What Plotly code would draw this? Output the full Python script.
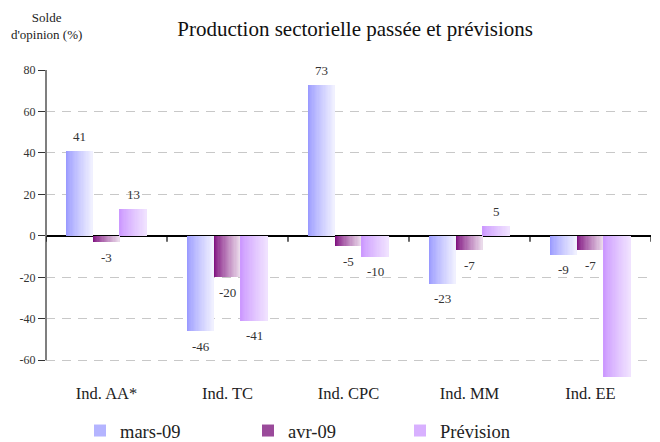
import plotly.graph_objects as go

categories = ["Ind. AA*", "Ind. TC", "Ind. CPC", "Ind. MM", "Ind. EE"]
series_names = ["mars-09", "avr-09", "Prévision"]
mars_09 = [41, -46, 73, -23, -9]
avr_09 = [-3, -20, -5, -7, -7]
prevision = [13, -41, -10, 5, -68]
prevision_labels = ["13", "-41", "-10", "5", ""]
ytick_vals = [-60, -40, -20, 0, 20, 40, 60, 80]
ytick_text = ["-60", "-40", "-20", "0", "20", "40", "60", "80"]

series = [mars_09, avr_09, prevision]
labels = [[str(v) for v in mars_09], [str(v) for v in avr_09], prevision_labels]
grad = [((0x9A, 0x9A, 0xFF), (0xF0, 0xF0, 0xFF)),
        ((0x80, 0x12, 0x80), (0xEA, 0xDA, 0xEA)),
        ((0xCC, 0x99, 0xFF), (0xF0, 0xE2, 0xFF))]
legend_col = ["#B4B4FF", "#9A4A9A", "#D8B0FF"]
legend_ids = ["legend", "legend2", "legend3"]
legend_x_px = [80, 248, 400]

FONT = "Liberation Serif"
x = list(range(len(categories)))
bw = 0.223
N = 22
fig = go.Figure()
for s, vals in enumerate(series):
    base = -1.5 * bw + s * bw
    c0, c1 = grad[s]
    for j in range(N):
        t = j / (N - 1)
        t2 = t ** 0.85
        col = "rgb(%d,%d,%d)" % tuple(round(c0[k] + (c1[k] - c0[k]) * t2) for k in range(3))
        fig.add_trace(go.Bar(
            x=x, y=vals, offset=base + j * bw / N,
            width=bw / N * (1.3 if j < N - 1 else 1.0),
            marker=dict(color=col, line=dict(width=0)),
            showlegend=False, hoverinfo="skip"))
    fig.add_trace(go.Bar(x=[None], y=[None], name=series_names[s],
                         marker=dict(color=legend_col[s], line=dict(width=0)),
                         showlegend=True, legend=legend_ids[s]))
    for i, v in enumerate(vals):
        if labels[s][i] == "":
            continue
        fig.add_annotation(x=x[i] + base + bw / 2, y=v, text=labels[s][i],
                           showarrow=False, yshift=14 if v >= 0 else -15,
                           font=dict(family=FONT, size=13, color="#333333"))

fig.add_shape(type="line", xref="paper", yref="y", x0=0, x1=0, y0=-60, y1=80,
              line=dict(color="#7F7F7F", width=2), layer="above")
for b in range(len(categories) + 1):
    fig.add_shape(type="line", xref="x", yref="y", x0=b - 0.5, x1=b - 0.5,
                  ysizemode="pixel", yanchor=0, y0=0, y1=-6,
                  line=dict(color="#000000", width=1.2))

fig.add_annotation(xref="paper", yref="paper", x=0, y=1, text="Solde<br>d'opinion (%)",
                   xanchor="center", yanchor="bottom", showarrow=False, yshift=26,
                   font=dict(family=FONT, size=13, color="#222222"), align="center")

legend_common = dict(orientation="h", xref="container", yref="container",
                     xanchor="left", yanchor="middle", y=11 / 442,
                     font=dict(family=FONT, size=18.5, color="#222222"),
                     bgcolor="rgba(0,0,0,0)")
legends = {}
for k, lid in enumerate(legend_ids):
    legends[lid] = dict(legend_common, x=legend_x_px[k] / 660)

fig.update_layout(
    width=660, height=442,
    barmode="overlay", bargap=0,
    margin=dict(l=46, r=9, t=70, b=61),
    paper_bgcolor="white", plot_bgcolor="white",
    title=dict(text="Production sectorielle passée et prévisions", xref="paper", x=0.511,
               xanchor="center", yref="container", y=0.935, yanchor="middle",
               font=dict(family=FONT, size=21, color="#111111")),
    xaxis=dict(range=[-0.5, 4.5], tickvals=x, ticktext=categories, showgrid=False,
               zeroline=False, showline=False, ticks="", automargin=False,
               tickfont=dict(family=FONT, size=16.5, color="#222222")),
    yaxis=dict(range=[-70, 80], tickvals=ytick_vals, ticktext=ytick_text, automargin=False,
               showgrid=True, gridcolor="#C8C8C8", griddash="9px,7px", gridwidth=1.2,
               zeroline=True, zerolinecolor="#000000", zerolinewidth=1.5,
               showline=False, ticks="outside", ticklen=7, tickcolor="#333333",
               tickwidth=1.2,
               tickfont=dict(family=FONT, size=12, color="#333333")),
    showlegend=True,
    **legends,
)
fig.write_html("out.html", config={"displayModeBar": False},
               post_script="document.body.style.margin='0';")
